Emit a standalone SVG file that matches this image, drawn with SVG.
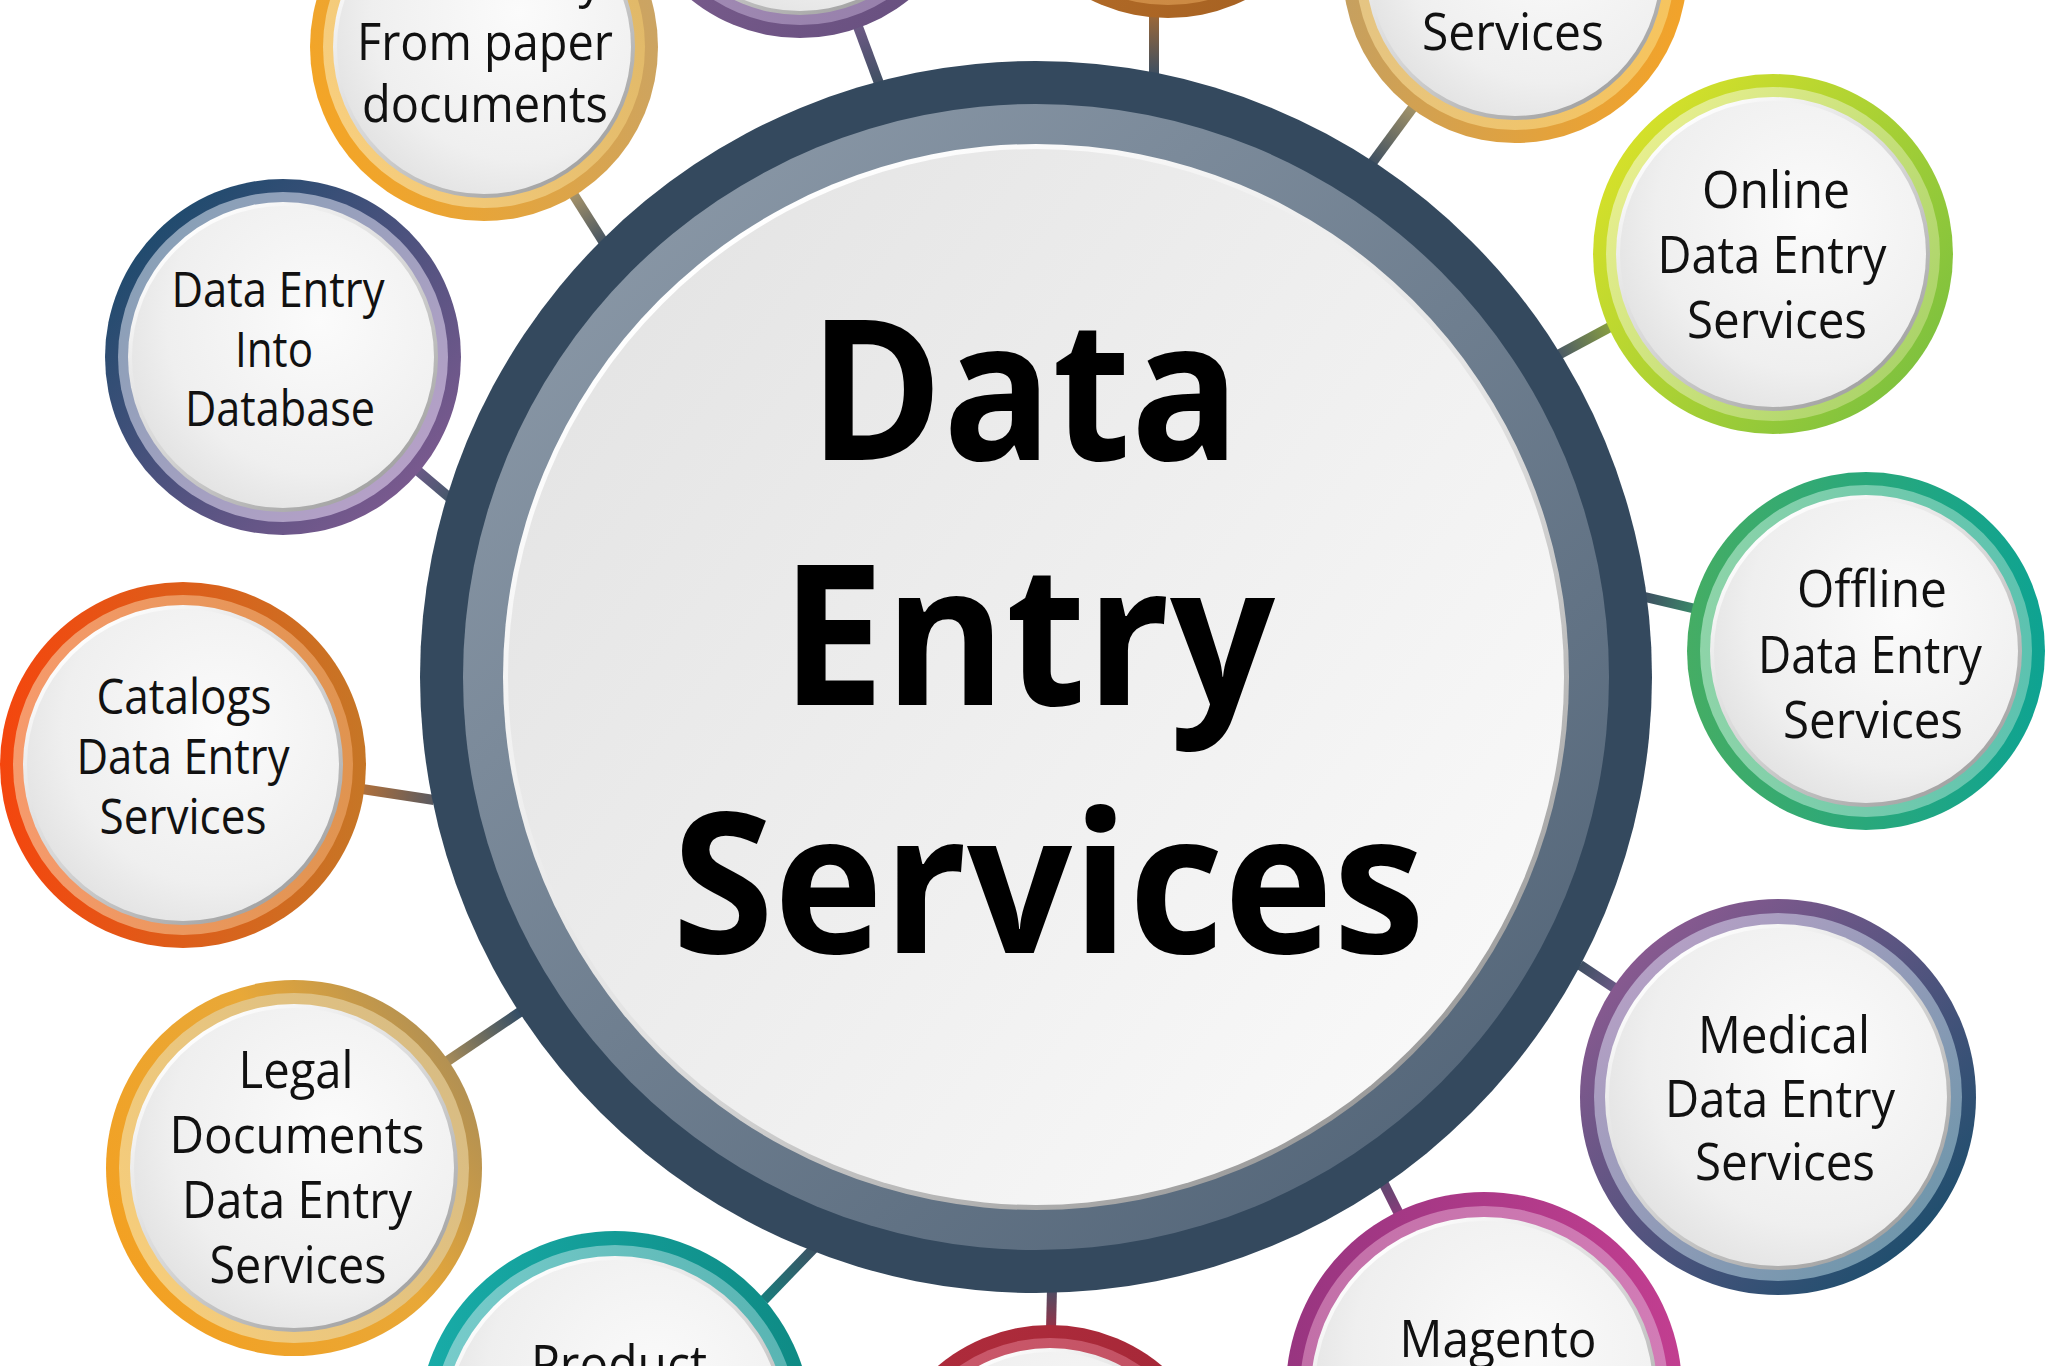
<svg xmlns="http://www.w3.org/2000/svg" width="2048" height="1366" viewBox="0 0 2048 1366">
<defs>
<style>
.t{font-family:"Open Sans","Noto Sans","DejaVu Sans",sans-serif;font-size:52px;fill:#111;text-anchor:middle}
.ts{font-size:49px}
.tc{font-family:"Open Sans","Noto Sans","DejaVu Sans",sans-serif;font-weight:700;font-size:196px;fill:#000}
.cn{stroke-width:10;fill:none;stroke-linecap:butt}
.rim{fill:url(#rim)}
.disc{fill:url(#disc)}
</style>
<linearGradient id="rim" x1="0.2" y1="0.1" x2="0.8" y2="0.9"><stop offset="0" stop-color="#fdfdfd"/><stop offset="0.5" stop-color="#d6d6d6"/><stop offset="1" stop-color="#a4a4a4"/></linearGradient>
<radialGradient id="disc" cx="0.62" cy="0.38" r="0.72"><stop offset="0" stop-color="#fbfbfb"/><stop offset="0.7" stop-color="#efefef"/><stop offset="1" stop-color="#e0e0e0"/></radialGradient>
<linearGradient id="midRing" x1="0.15" y1="0.1" x2="0.85" y2="0.9"><stop offset="0" stop-color="#8896a5"/><stop offset="1" stop-color="#55677a"/></linearGradient>
<linearGradient id="rimC" x1="0.2" y1="0.1" x2="0.8" y2="0.9"><stop offset="0" stop-color="#ffffff"/><stop offset="0.55" stop-color="#e2e2e2"/><stop offset="1" stop-color="#9c9c9c"/></linearGradient>
<linearGradient id="discC" x1="0.1" y1="0.2" x2="0.9" y2="0.8"><stop offset="0" stop-color="#e5e5e5"/><stop offset="1" stop-color="#f8f8f8"/></linearGradient>

<linearGradient id="oA" x1="0" y1="0.7" x2="1" y2="0.3"><stop offset="0" stop-color="#f5a524"/><stop offset="1" stop-color="#c9a466"/></linearGradient>
<linearGradient id="iA" x1="0" y1="0.7" x2="1" y2="0.3"><stop offset="0" stop-color="#f8cf7e"/><stop offset="1" stop-color="#e0b868"/></linearGradient>
<linearGradient id="oB" x1="0" y1="0" x2="1" y2="1"><stop offset="0" stop-color="#8c6a9a"/><stop offset="1" stop-color="#634c7c"/></linearGradient>
<linearGradient id="iB" x1="0" y1="0" x2="1" y2="1"><stop offset="0" stop-color="#b09ac0"/><stop offset="1" stop-color="#937ca8"/></linearGradient>
<linearGradient id="oC" x1="0" y1="0" x2="1" y2="1"><stop offset="0" stop-color="#c47a30"/><stop offset="1" stop-color="#a25e20"/></linearGradient>
<linearGradient id="iC" x1="0" y1="0" x2="1" y2="1"><stop offset="0" stop-color="#dc9e58"/><stop offset="1" stop-color="#c7843e"/></linearGradient>
<linearGradient id="oD" x1="0" y1="0.4" x2="1" y2="0.6"><stop offset="0" stop-color="#c4a062"/><stop offset="1" stop-color="#f2a32a"/></linearGradient>
<linearGradient id="iD" x1="0" y1="0.4" x2="1" y2="0.6"><stop offset="0" stop-color="#e4c585"/><stop offset="1" stop-color="#f6c45e"/></linearGradient>
<linearGradient id="oE" x1="0.1" y1="0.2" x2="0.9" y2="0.8"><stop offset="0" stop-color="#d4e02a"/><stop offset="1" stop-color="#80c23e"/></linearGradient>
<linearGradient id="iE" x1="0.1" y1="0.2" x2="0.9" y2="0.8"><stop offset="0" stop-color="#e6ee8e"/><stop offset="1" stop-color="#acd46a"/></linearGradient>
<linearGradient id="oF" x1="0" y1="0.5" x2="1" y2="0.5"><stop offset="0" stop-color="#45ad64"/><stop offset="1" stop-color="#0ea392"/></linearGradient>
<linearGradient id="iF" x1="0" y1="0.5" x2="1" y2="0.5"><stop offset="0" stop-color="#8ed4a8"/><stop offset="1" stop-color="#5cc2b0"/></linearGradient>
<linearGradient id="oG" x1="0.1" y1="0.1" x2="0.9" y2="0.9"><stop offset="0" stop-color="#8e5a92"/><stop offset="1" stop-color="#1a4e6c"/></linearGradient>
<linearGradient id="iG" x1="0.1" y1="0.1" x2="0.9" y2="0.9"><stop offset="0" stop-color="#b8a0c6"/><stop offset="1" stop-color="#6c96aa"/></linearGradient>
<linearGradient id="oH" x1="0" y1="0.5" x2="1" y2="0.5"><stop offset="0" stop-color="#983580"/><stop offset="1" stop-color="#c23e90"/></linearGradient>
<linearGradient id="iH" x1="0" y1="0.5" x2="1" y2="0.5"><stop offset="0" stop-color="#c270a8"/><stop offset="1" stop-color="#d27cb6"/></linearGradient>
<linearGradient id="oI" x1="0" y1="0" x2="1" y2="1"><stop offset="0" stop-color="#b02c3c"/><stop offset="1" stop-color="#9c2434"/></linearGradient>
<linearGradient id="iI" x1="0" y1="0" x2="1" y2="1"><stop offset="0" stop-color="#cc5a6c"/><stop offset="1" stop-color="#b8485a"/></linearGradient>
<linearGradient id="oJ" x1="0" y1="0.5" x2="1" y2="0.5"><stop offset="0" stop-color="#18aca8"/><stop offset="1" stop-color="#0e8a84"/></linearGradient>
<linearGradient id="iJ" x1="0" y1="0.5" x2="1" y2="0.5"><stop offset="0" stop-color="#78cccb"/><stop offset="1" stop-color="#58b4b2"/></linearGradient>
<linearGradient id="oK" x1="0" y1="0.8" x2="1" y2="0.2"><stop offset="0" stop-color="#f4a020"/><stop offset="0.6" stop-color="#e8a838"/><stop offset="1" stop-color="#a88c58"/></linearGradient>
<linearGradient id="iK" x1="0" y1="0.8" x2="1" y2="0.2"><stop offset="0" stop-color="#f8ce7a"/><stop offset="1" stop-color="#d6bb84"/></linearGradient>
<linearGradient id="oL" x1="0" y1="0.5" x2="1" y2="0.5"><stop offset="0" stop-color="#f4460e"/><stop offset="1" stop-color="#c67626"/></linearGradient>
<linearGradient id="iL" x1="0" y1="0.5" x2="1" y2="0.5"><stop offset="0" stop-color="#f69a6c"/><stop offset="1" stop-color="#e09450"/></linearGradient>
<linearGradient id="oM" x1="0.1" y1="0.1" x2="0.9" y2="0.9"><stop offset="0" stop-color="#1b4a6c"/><stop offset="1" stop-color="#7e5a90"/></linearGradient>
<linearGradient id="iM" x1="0.1" y1="0.1" x2="0.9" y2="0.9"><stop offset="0" stop-color="#86a0b6"/><stop offset="1" stop-color="#b8a0c8"/></linearGradient>

<linearGradient id="cA" gradientUnits="userSpaceOnUse" x1="606" y1="246" x2="570" y2="189"><stop offset="0" stop-color="#3e4f61"/><stop offset="1" stop-color="#b09a6a"/></linearGradient>
<linearGradient id="cB" gradientUnits="userSpaceOnUse" x1="880" y1="86" x2="857" y2="24"><stop offset="0" stop-color="#3e4f61"/><stop offset="1" stop-color="#6e5a86"/></linearGradient>
<linearGradient id="cC" gradientUnits="userSpaceOnUse" x1="1154" y1="74" x2="1154" y2="10"><stop offset="0" stop-color="#3e4f61"/><stop offset="1" stop-color="#a46a34"/></linearGradient>
<linearGradient id="cD" gradientUnits="userSpaceOnUse" x1="1372" y1="163" x2="1414" y2="106"><stop offset="0" stop-color="#3e4f61"/><stop offset="1" stop-color="#a49468"/></linearGradient>
<linearGradient id="cE" gradientUnits="userSpaceOnUse" x1="1558" y1="355" x2="1612" y2="326"><stop offset="0" stop-color="#4a5866"/><stop offset="1" stop-color="#8aa040"/></linearGradient>
<linearGradient id="cF" gradientUnits="userSpaceOnUse" x1="1645" y1="597" x2="1696" y2="609"><stop offset="0" stop-color="#3e4f61"/><stop offset="1" stop-color="#3a8a6a"/></linearGradient>
<linearGradient id="cG" gradientUnits="userSpaceOnUse" x1="1580" y1="965" x2="1616" y2="989"><stop offset="0" stop-color="#3e4f61"/><stop offset="1" stop-color="#6a5a86"/></linearGradient>
<linearGradient id="cH" gradientUnits="userSpaceOnUse" x1="1376" y1="1168" x2="1400" y2="1216"><stop offset="0" stop-color="#4a4f68"/><stop offset="1" stop-color="#8a3a7c"/></linearGradient>
<linearGradient id="cI" gradientUnits="userSpaceOnUse" x1="1052" y1="1288" x2="1051" y2="1330"><stop offset="0" stop-color="#4a4f66"/><stop offset="1" stop-color="#9a3046"/></linearGradient>
<linearGradient id="cJ" gradientUnits="userSpaceOnUse" x1="818" y1="1244" x2="764" y2="1300"><stop offset="0" stop-color="#3e4f61"/><stop offset="1" stop-color="#1a7c7c"/></linearGradient>
<linearGradient id="cK" gradientUnits="userSpaceOnUse" x1="523" y1="1010" x2="446" y2="1062"><stop offset="0" stop-color="#2e4a66"/><stop offset="1" stop-color="#a88c58"/></linearGradient>
<linearGradient id="cL" gradientUnits="userSpaceOnUse" x1="434" y1="800" x2="362" y2="789"><stop offset="0" stop-color="#5a5a60"/><stop offset="1" stop-color="#b0703a"/></linearGradient>
<linearGradient id="cM" gradientUnits="userSpaceOnUse" x1="450" y1="498" x2="418" y2="471"><stop offset="0" stop-color="#45586a"/><stop offset="1" stop-color="#6a5a86"/></linearGradient>
</defs>

<rect width="2048" height="1366" fill="#ffffff"/>

<g id="connectors">
<line class="cn" x1="606" y1="246" x2="570" y2="189" stroke="url(#cA)"/>
<line class="cn" x1="880" y1="86" x2="857" y2="24" stroke="url(#cB)"/>
<line class="cn" x1="1154" y1="74" x2="1154" y2="10" stroke="url(#cC)"/>
<line class="cn" x1="1372" y1="163" x2="1414" y2="106" stroke="url(#cD)"/>
<line class="cn" x1="1558" y1="355" x2="1612" y2="326" stroke="url(#cE)"/>
<line class="cn" x1="1645" y1="597" x2="1696" y2="609" stroke="url(#cF)"/>
<line class="cn" x1="1580" y1="965" x2="1616" y2="989" stroke="url(#cG)"/>
<line class="cn" x1="1376" y1="1168" x2="1400" y2="1216" stroke="url(#cH)"/>
<line class="cn" x1="1052" y1="1288" x2="1051" y2="1330" stroke="url(#cI)"/>
<line class="cn" x1="818" y1="1244" x2="764" y2="1300" stroke="url(#cJ)"/>
<line class="cn" x1="523" y1="1010" x2="446" y2="1062" stroke="url(#cK)"/>
<line class="cn" x1="434" y1="800" x2="362" y2="789" stroke="url(#cL)"/>
<line class="cn" x1="450" y1="498" x2="418" y2="471" stroke="url(#cM)"/>
</g>

<g id="node-center">
<circle cx="1036" cy="677" r="616" fill="#34495e"/>
<circle cx="1036" cy="677" r="573" fill="url(#midRing)"/>
<circle cx="1036" cy="677" r="533" fill="url(#rimC)"/>
<circle cx="1036" cy="677" r="528" fill="url(#discC)"/>
<text class="tc" x="809" y="460" textLength="431" lengthAdjust="spacingAndGlyphs">Data</text>
<text class="tc" x="781" y="705" textLength="494" lengthAdjust="spacingAndGlyphs">Entry</text>
<text class="tc" x="672" y="953" textLength="753" lengthAdjust="spacingAndGlyphs">Services</text>
</g>

<g id="node-paper">
<circle cx="484" cy="47" r="174" fill="url(#oA)"/>
<circle cx="484" cy="47" r="161" fill="url(#iA)"/>
<circle cx="484" cy="47" r="151" class="rim"/>
<circle cx="484" cy="47" r="147" class="disc"/>
<text class="t" x="485" y="-3" textLength="235" lengthAdjust="spacingAndGlyphs">Data Entry</text>
<text class="t" x="485" y="60" textLength="256" lengthAdjust="spacingAndGlyphs">From paper</text>
<text class="t" x="485" y="122" textLength="246" lengthAdjust="spacingAndGlyphs">documents</text>
</g>

<g id="node-top-purple">
<circle cx="800" cy="-136" r="174" fill="url(#oB)"/>
<circle cx="800" cy="-136" r="161" fill="url(#iB)"/>
<circle cx="800" cy="-136" r="151" class="rim"/>
<circle cx="800" cy="-136" r="147" class="disc"/>
</g>

<g id="node-top-brown">
<circle cx="1168" cy="-156" r="174" fill="url(#oC)"/>
<circle cx="1168" cy="-156" r="161" fill="url(#iC)"/>
<circle cx="1168" cy="-156" r="151" class="rim"/>
<circle cx="1168" cy="-156" r="147" class="disc"/>
</g>

<g id="node-top-services">
<circle cx="1515" cy="-29" r="172" fill="url(#oD)"/>
<circle cx="1515" cy="-29" r="159" fill="url(#iD)"/>
<circle cx="1515" cy="-29" r="149" class="rim"/>
<circle cx="1515" cy="-29" r="145" class="disc"/>
<text class="t" x="1513" y="50" textLength="182" lengthAdjust="spacingAndGlyphs">Services</text>
</g>

<g id="node-online">
<circle cx="1773" cy="254" r="180" fill="url(#oE)"/>
<circle cx="1773" cy="254" r="167" fill="url(#iE)"/>
<circle cx="1773" cy="254" r="157" class="rim"/>
<circle cx="1773" cy="254" r="153" class="disc"/>
<text class="t" x="1776" y="208" textLength="148" lengthAdjust="spacingAndGlyphs">Online</text>
<text class="t" x="1772" y="273" textLength="229" lengthAdjust="spacingAndGlyphs">Data Entry</text>
<text class="t" x="1777" y="338" textLength="180" lengthAdjust="spacingAndGlyphs">Services</text>
</g>

<g id="node-offline">
<circle cx="1866" cy="651" r="179" fill="url(#oF)"/>
<circle cx="1866" cy="651" r="166" fill="url(#iF)"/>
<circle cx="1866" cy="651" r="156" class="rim"/>
<circle cx="1866" cy="651" r="152" class="disc"/>
<text class="t" x="1872" y="607" textLength="150" lengthAdjust="spacingAndGlyphs">Offline</text>
<text class="t" x="1870" y="673" textLength="224" lengthAdjust="spacingAndGlyphs">Data Entry</text>
<text class="t" x="1873" y="738" textLength="180" lengthAdjust="spacingAndGlyphs">Services</text>
</g>

<g id="node-medical">
<circle cx="1778" cy="1097" r="198" fill="url(#oG)"/>
<circle cx="1778" cy="1097" r="184" fill="url(#iG)"/>
<circle cx="1778" cy="1097" r="173" class="rim"/>
<circle cx="1778" cy="1097" r="169" class="disc"/>
<text class="t" x="1784" y="1053" textLength="172" lengthAdjust="spacingAndGlyphs">Medical</text>
<text class="t" x="1780" y="1117" textLength="230" lengthAdjust="spacingAndGlyphs">Data Entry</text>
<text class="t" x="1785" y="1180" textLength="180" lengthAdjust="spacingAndGlyphs">Services</text>
</g>

<g id="node-magento">
<circle cx="1484" cy="1390" r="198" fill="url(#oH)"/>
<circle cx="1484" cy="1390" r="184" fill="url(#iH)"/>
<circle cx="1484" cy="1390" r="173" class="rim"/>
<circle cx="1484" cy="1390" r="169" class="disc"/>
<text class="t" x="1498" y="1357" textLength="197" lengthAdjust="spacingAndGlyphs">Magento</text>
</g>

<g id="node-bottom-red">
<circle cx="1050" cy="1499" r="174" fill="url(#oI)"/>
<circle cx="1050" cy="1499" r="161" fill="url(#iI)"/>
<circle cx="1050" cy="1499" r="151" class="rim"/>
<circle cx="1050" cy="1499" r="147" class="disc"/>
</g>

<g id="node-product">
<circle cx="615" cy="1428" r="197" fill="url(#oJ)"/>
<circle cx="615" cy="1428" r="183" fill="url(#iJ)"/>
<circle cx="615" cy="1428" r="172" class="rim"/>
<circle cx="615" cy="1428" r="168" class="disc"/>
<text class="t" x="619" y="1382" textLength="176" lengthAdjust="spacingAndGlyphs">Product</text>
</g>

<g id="node-legal">
<circle cx="294" cy="1168" r="188" fill="url(#oK)"/>
<circle cx="294" cy="1168" r="175" fill="url(#iK)"/>
<circle cx="294" cy="1168" r="164" class="rim"/>
<circle cx="294" cy="1168" r="160" class="disc"/>
<text class="t" x="296" y="1088" textLength="115" lengthAdjust="spacingAndGlyphs">Legal</text>
<text class="t" x="297" y="1153" textLength="255" lengthAdjust="spacingAndGlyphs">Documents</text>
<text class="t" x="297" y="1218" textLength="230" lengthAdjust="spacingAndGlyphs">Data Entry</text>
<text class="t" x="298" y="1283" textLength="177" lengthAdjust="spacingAndGlyphs">Services</text>
</g>

<g id="node-catalogs">
<circle cx="183" cy="765" r="183" fill="url(#oL)"/>
<circle cx="183" cy="765" r="170" fill="url(#iL)"/>
<circle cx="183" cy="765" r="160" class="rim"/>
<circle cx="183" cy="765" r="156" class="disc"/>
<text class="t ts" x="184" y="714" textLength="175" lengthAdjust="spacingAndGlyphs">Catalogs</text>
<text class="t ts" x="183" y="774" textLength="213" lengthAdjust="spacingAndGlyphs">Data Entry</text>
<text class="t ts" x="183" y="834" textLength="167" lengthAdjust="spacingAndGlyphs">Services</text>
</g>

<g id="node-database">
<circle cx="283" cy="357" r="178" fill="url(#oM)"/>
<circle cx="283" cy="357" r="165" fill="url(#iM)"/>
<circle cx="283" cy="357" r="155" class="rim"/>
<circle cx="283" cy="357" r="151" class="disc"/>
<text class="t ts" x="278" y="307" textLength="213" lengthAdjust="spacingAndGlyphs">Data Entry</text>
<text class="t ts" x="274" y="367" textLength="78" lengthAdjust="spacingAndGlyphs">Into</text>
<text class="t ts" x="280" y="426" textLength="190" lengthAdjust="spacingAndGlyphs">Database</text>
</g>
</svg>
